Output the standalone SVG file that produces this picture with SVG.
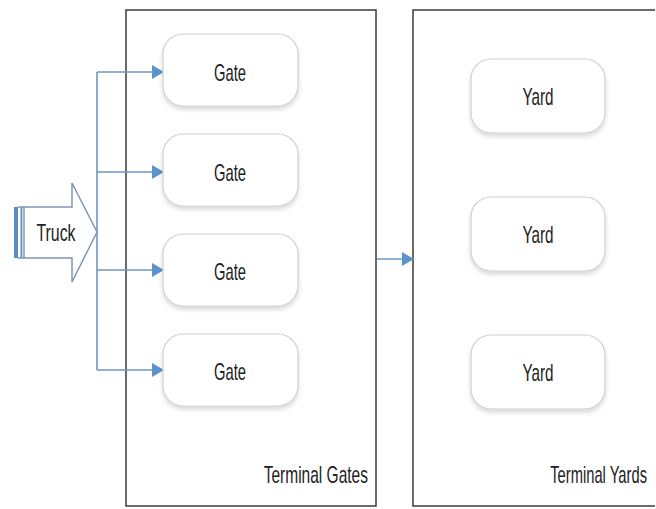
<svg xmlns="http://www.w3.org/2000/svg" width="656" height="509" viewBox="0 0 656 509">
<style>
.frame{fill:#fff;stroke:#3a3a3a;stroke-width:1.5}
.node{fill:#fff;stroke:#cfcfcf;stroke-width:1.2;filter:url(#sh)}
.lbl{font-family:"Liberation Sans",Arial,sans-serif;font-size:24px;fill:#222;text-anchor:middle}
.flbl{font-family:"Liberation Sans",Arial,sans-serif;font-size:23px;fill:#222;text-anchor:end}
.con{fill:none;stroke:#6f96c0;stroke-width:1.6}
</style>
<defs>
<filter id="sh" x="-10%" y="-10%" width="120%" height="130%">
<feDropShadow dx="0" dy="3" stdDeviation="2" flood-color="#000" flood-opacity="0.15"/>
</filter>
<marker id="ah" markerWidth="12" markerHeight="14" refX="11" refY="7" orient="auto" markerUnits="userSpaceOnUse">
<path d="M0,0 L12,7 L0,14 Z" fill="#5b93cc"/>
</marker>
</defs>
<rect width="656" height="509" fill="#fff"/>
<g id="terminal-gates">
<rect class="frame" x="126" y="10" width="250" height="496"/>
<text class="flbl" transform="translate(368,483) scale(0.675,1)">Terminal Gates</text>
</g>
<g id="terminal-yards">
<path d="M655,10 H413 V506 H655" fill="#fff" stroke="#3a3a3a" stroke-width="1.5"/>
<text class="flbl" transform="translate(647,483) scale(0.64,1)">Terminal Yards</text>
</g>
<g id="connectors">
<path class="con" d="M97,72 V370"/>
<path class="con" d="M97,72 H163" marker-end="url(#ah)"/>
<path class="con" d="M97,172 H163" marker-end="url(#ah)"/>
<path class="con" d="M97,270 H163" marker-end="url(#ah)"/>
<path class="con" d="M97,370 H163" marker-end="url(#ah)"/>
<path class="con" d="M377,259 H413" marker-end="url(#ah)"/>
</g>
<g id="truck">
<polygon points="24,207 72,207 72,183 97,232 72,282 72,258 24,258" fill="#fff" stroke="#7f97b5" stroke-width="1.5"/>
<rect x="14" y="207" width="4" height="51" fill="#5b8cc0"/>
<rect x="20.5" y="207" width="1.8" height="51" fill="#5b8cc0"/>
<line x1="18" y1="207" x2="24" y2="207" stroke="#7f97b5" stroke-width="1.5"/>
<line x1="18" y1="258" x2="24" y2="258" stroke="#7f97b5" stroke-width="1.5"/>
<text class="lbl" x="56" y="241" textLength="39" lengthAdjust="spacingAndGlyphs">Truck</text>
</g>
<g id="gate1"><rect class="node" x="163" y="34" width="135" height="72" rx="20"/><text class="lbl" x="230" y="81" textLength="32" lengthAdjust="spacingAndGlyphs">Gate</text></g>
<g id="gate2"><rect class="node" x="163" y="134" width="135" height="72" rx="20"/><text class="lbl" x="230" y="181" textLength="32" lengthAdjust="spacingAndGlyphs">Gate</text></g>
<g id="gate3"><rect class="node" x="163" y="234" width="135" height="72" rx="20"/><text class="lbl" x="230" y="280" textLength="32" lengthAdjust="spacingAndGlyphs">Gate</text></g>
<g id="gate4"><rect class="node" x="163" y="334" width="135" height="72" rx="20"/><text class="lbl" x="230" y="380" textLength="32" lengthAdjust="spacingAndGlyphs">Gate</text></g>
<g id="yard1"><rect class="node" x="471" y="59" width="134" height="74" rx="20"/><text class="lbl" x="538" y="105" textLength="31" lengthAdjust="spacingAndGlyphs">Yard</text></g>
<g id="yard2"><rect class="node" x="471" y="197" width="134" height="74" rx="20"/><text class="lbl" x="538" y="243" textLength="31" lengthAdjust="spacingAndGlyphs">Yard</text></g>
<g id="yard3"><rect class="node" x="471" y="335" width="134" height="74" rx="20"/><text class="lbl" x="538" y="381" textLength="31" lengthAdjust="spacingAndGlyphs">Yard</text></g>
</svg>
